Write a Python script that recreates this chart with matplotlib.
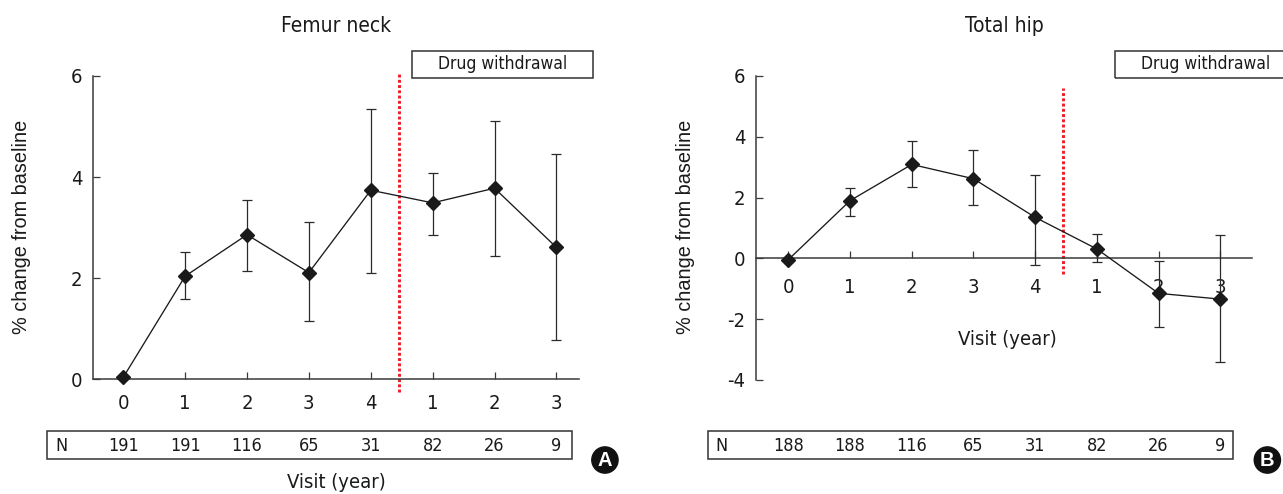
import numpy as np
import matplotlib.pyplot as plt
from matplotlib.patches import Rectangle
from matplotlib.transforms import blended_transform_factory

plt.rcParams['font.family'] = ['DejaVu Sans']
plt.rcParams['font.stretch'] = 'condensed'

# Data
visit_labels = ['0', '1', '2', '3', '4', '1', '2', '3']

femur_mean = [0.04, 2.04, 2.86, 2.11, 3.74, 3.49, 3.78, 2.61]
femur_upper = [0.04, 2.51, 3.54, 3.11, 5.35, 4.09, 5.10, 4.46]
femur_lower = [0.04, 1.58, 2.14, 1.15, 2.10, 2.85, 2.44, 0.78]
femur_n = [191, 191, 116, 65, 31, 82, 26, 9]

hip_mean = [-0.04, 1.90, 3.09, 2.62, 1.35, 0.31, -1.15, -1.34]
hip_upper = [-0.04, 2.32, 3.86, 3.56, 2.75, 0.81, -0.08, 0.78]
hip_lower = [-0.04, 1.40, 2.34, 1.77, -0.23, -0.13, -2.25, -3.40]
hip_n = [188, 188, 116, 65, 31, 82, 26, 9]

withdrawal_x = 4.45

DARK = '#1a1a1a'
AXIS = '#3a3a3a'
RED = '#ee1c25'

fig = plt.figure(figsize=(12.83, 4.94), dpi=100)
ax_a = fig.add_axes([0.0727, 0.2322, 0.3788, 0.6140])
ax_b = fig.add_axes([0.5895, 0.2308, 0.3861, 0.6154])


def draw_panel(ax, title, mean, upper, lower, n, xlim, ylim, yticks,
               red_span, xpad, table_x, n_x, box_x, letter, letter_x):
    x = np.arange(len(mean))
    mean = np.array(mean)
    yerr = [mean - np.array(lower), np.array(upper) - mean]
    ax.errorbar(x, mean, yerr=yerr, fmt='none', ecolor='#2a2a2a',
                elinewidth=0.9, capsize=3.8, capthick=0.9, zorder=3,
                clip_on=False)
    ax.plot(x, mean, color=DARK, lw=0.95, marker='D', ms=7.5,
            mfc=DARK, mec=DARK, zorder=4, clip_on=False)
    ax.plot([withdrawal_x, withdrawal_x], red_span, color=RED, lw=2.1,
            ls=(0, (1, 0.8)), dash_capstyle='butt', clip_on=False,
            zorder=2)

    ax.set_xlim(*xlim)
    ax.set_ylim(*ylim)
    ax.set_xticks(x)
    ax.set_xticklabels(visit_labels)
    ax.set_yticks(yticks)
    ax.set_yticklabels([f'{t:g}' for t in yticks])
    for s in ['top', 'right']:
        ax.spines[s].set_visible(False)
    for s in ['left', 'bottom']:
        ax.spines[s].set_color(AXIS)
        ax.spines[s].set_linewidth(1.1)
    ax.tick_params(axis='x', direction='in', length=5, width=0.9,
                   color=AXIS, labelsize=14.5, pad=xpad, labelcolor=DARK)
    ax.tick_params(axis='y', direction='in', length=5, width=0.9,
                   color=AXIS, labelsize=14.5, pad=8, labelcolor=DARK)
    ax.set_title(title, fontsize=15, color=DARK, pad=32)
    ax.set_ylabel('% change from baseline', fontsize=14.3,
                  family='Liberation Sans', stretch='normal', color=DARK,
                  va='center')

    # N table
    fig.add_artist(Rectangle((table_x, 0.0702), 0.4090, 0.0573,
                             transform=fig.transFigure, fill=False,
                             ec='#333333', lw=1.1))
    fig.text(n_x, 0.0972, 'N', fontsize=13, ha='center', va='center',
             color=DARK)
    trans = blended_transform_factory(ax.transData, fig.transFigure)
    for xi, val in zip(x, n):
        ax.text(xi, 0.0972, str(val), transform=trans, fontsize=13,
                ha='center', va='center', color=DARK, clip_on=False)

    # Drug withdrawal box
    fig.add_artist(Rectangle((box_x, 0.8427), 0.1411, 0.0547,
                             transform=fig.transFigure, fill=False,
                             ec='#333333', lw=1.1))
    fig.text(box_x + 0.1411 / 2, 0.870, 'Drug withdrawal', fontsize=12.5,
             ha='center', va='center', color=DARK)

    # panel letter
    fig.text(letter_x, 0.0688, letter, fontsize=14.5, fontweight='bold',
             family='Liberation Sans', stretch='normal', color='white',
             ha='center', va='center',
             bbox=dict(boxstyle='circle,pad=0.18', fc='#111111',
                       ec='#111111'))


draw_panel(ax_a, 'Femur neck', femur_mean, femur_upper, femur_lower,
           femur_n, (-0.485, 7.37), (0, 6), [0, 2, 4, 6], (-0.245, 6.07),
           10.5, 0.03687, 0.0475, 0.3214, 'A', 0.4715)
draw_panel(ax_b, 'Total hip', hip_mean, hip_upper, hip_lower,
           hip_n, (-0.52, 7.51), (-4, 6), [-4, -2, 0, 2, 4, 6],
           (-0.50, 5.62), 14, 0.5521, 0.5625, 0.8691, 'B', 0.9878)

ax_b.spines['bottom'].set_position(('data', 0))

ax_a.set_xlabel('Visit (year)', fontsize=14.5, color=DARK, va='top')
ax_a.xaxis.set_label_coords(0.5, -0.309)
ax_b.set_xlabel('Visit (year)', fontsize=14.5, color=DARK, va='top')
ax_b.xaxis.set_label_coords(0.506, 0.1645)

ax_a.yaxis.set_label_coords(-0.1473, 0.503)
ax_b.yaxis.set_label_coords(-0.1439, 0.504)

fig.savefig('out.png', dpi=100)
